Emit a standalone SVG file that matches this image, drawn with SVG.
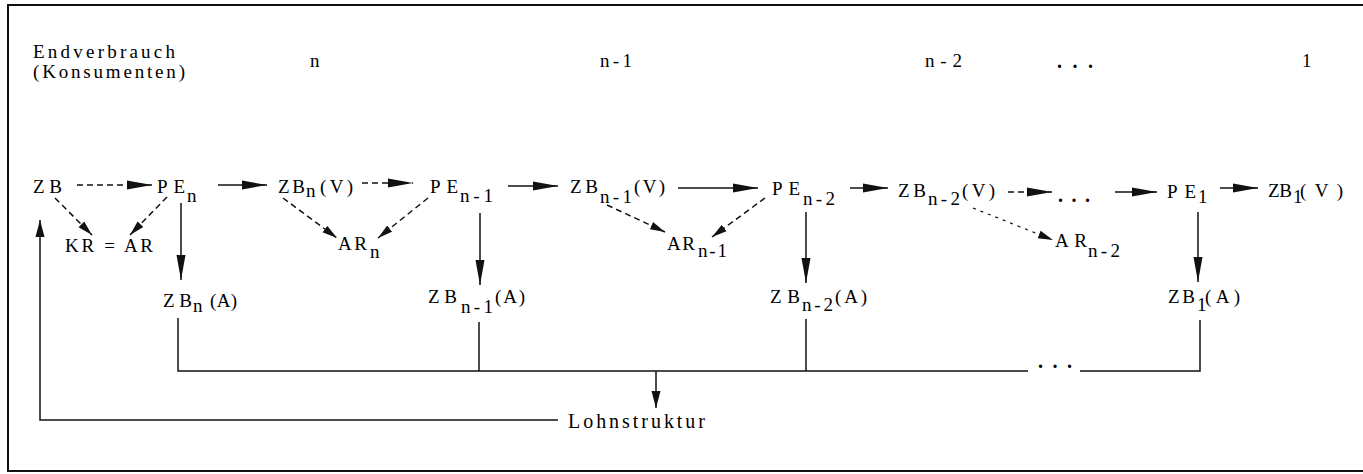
<svg xmlns="http://www.w3.org/2000/svg" width="1363" height="474" viewBox="0 0 1363 474">
<style>
text{font-family:"Liberation Serif","DejaVu Serif",serif;font-size:19px;fill:#000}
.top{font-size:19px}
.lbl{font-size:20px}
.dots{font-size:20px;font-weight:bold}
.c{stroke:#111;stroke-width:1.5;fill:none}
.d{stroke-dasharray:6 4}
.f{stroke-dasharray:3 5;stroke-width:1.2}
.frame{stroke:#111;stroke-width:2;fill:none}
</style>
<defs>
<marker id="ah" markerUnits="userSpaceOnUse" markerWidth="26" markerHeight="10" refX="25" refY="5" orient="auto"><path d="M0,0.5 L25,5 L0,9.5 z" fill="#111"/></marker>
<marker id="am" markerUnits="userSpaceOnUse" markerWidth="18" markerHeight="10" refX="17" refY="5" orient="auto"><path d="M0,0.5 L17,5 L0,9.5 z" fill="#111"/></marker>
<marker id="as" markerUnits="userSpaceOnUse" markerWidth="16" markerHeight="9" refX="15" refY="4.5" orient="auto"><path d="M0,0.5 L15,4.5 L0,8.5 z" fill="#111"/></marker>
</defs>
<path class="frame" d="M1366,5 H8 V471 H1366"/>
<g id="header">
<text class="top" x="33" y="58" textLength="142" lengthAdjust="spacing">Endverbrauch</text>
<text class="top" x="33" y="78" textLength="152" lengthAdjust="spacing">(Konsumenten)</text>
<text class="top" x="310" y="67">n</text>
<text class="top" x="600" y="67" textLength="32" lengthAdjust="spacing">n-1</text>
<text class="top" x="925" y="67" textLength="37" lengthAdjust="spacing">n-2</text>
<text class="dots" x="1057" y="68" textLength="36" lengthAdjust="spacing">...</text>
<text class="top" x="1302" y="67">1</text>
</g>
<g id="connectors">
<line class="c d" x1="77" y1="185" x2="152" y2="185" marker-end="url(#ah)"/>
<line class="c" x1="218" y1="185" x2="267" y2="185" marker-end="url(#ah)"/>
<line class="c d" x1="362" y1="183" x2="413" y2="183" marker-end="url(#ah)"/>
<line class="c" x1="508" y1="186" x2="558" y2="186" marker-end="url(#ah)"/>
<line class="c" x1="678" y1="188" x2="758" y2="188" marker-end="url(#ah)"/>
<line class="c" x1="850" y1="188" x2="888" y2="188" marker-end="url(#ah)"/>
<line class="c d" x1="1008" y1="192" x2="1052" y2="192" marker-end="url(#ah)"/>
<line class="c" x1="1115" y1="192" x2="1157" y2="192" marker-end="url(#ah)"/>
<line class="c" x1="1220" y1="188" x2="1258" y2="188" marker-end="url(#ah)"/>
<line class="c d" x1="55" y1="198" x2="92" y2="235" marker-end="url(#as)"/>
<line class="c d" x1="167" y1="197" x2="130" y2="235" marker-end="url(#as)"/>
<line class="c d" x1="283" y1="198" x2="337" y2="238" marker-end="url(#as)"/>
<line class="c d" x1="428" y1="198" x2="378" y2="238" marker-end="url(#as)"/>
<line class="c d" x1="607" y1="205" x2="665" y2="232" marker-end="url(#as)"/>
<line class="c d" x1="765" y1="198" x2="712" y2="237" marker-end="url(#as)"/>
<line class="c f" x1="973" y1="208" x2="1053" y2="240" marker-end="url(#as)"/>
<line class="c" x1="181" y1="203" x2="181" y2="280" marker-end="url(#ah)"/>
<line class="c" x1="480" y1="213" x2="480" y2="285" marker-end="url(#ah)"/>
<line class="c" x1="806" y1="212" x2="806" y2="283" marker-end="url(#ah)"/>
<line class="c" x1="1198" y1="212" x2="1198" y2="282" marker-end="url(#ah)"/>
<polyline class="c" points="178,318 178,371 1028,371"/>
<polyline class="c" points="1080,371 1200,371 1200,320"/>
<line class="c" x1="479" y1="322" x2="479" y2="371"/>
<line class="c" x1="806" y1="319" x2="806" y2="371"/>
<text class="dots" x="1038" y="368" textLength="34" lengthAdjust="spacing">...</text>
<line class="c" x1="656" y1="371" x2="656" y2="408" marker-end="url(#am)"/>
<polyline class="c" points="558,420 40,420 40,220" marker-end="url(#am)"/>
</g>
<g id="n-ZB"><text x="33" y="193" textLength="29" lengthAdjust="spacing">ZB</text></g>
<g id="n-PEn"><text x="157" y="193" textLength="28" lengthAdjust="spacing">PE</text><text x="187" y="202">n</text></g>
<g id="n-ZBnV"><text x="278" y="193" textLength="27" lengthAdjust="spacing">ZB</text><text x="306" y="197">n</text><text x="320" y="193" textLength="33" lengthAdjust="spacing">(V)</text></g>
<g id="n-PEn1"><text x="430" y="193" textLength="28" lengthAdjust="spacing">PE</text><text x="460" y="202" textLength="33" lengthAdjust="spacing">n-1</text></g>
<g id="n-ZBn1V"><text x="570" y="193" textLength="28" lengthAdjust="spacing">ZB</text><text x="600" y="203" textLength="32" lengthAdjust="spacing">n-1</text><text x="634" y="193" textLength="31" lengthAdjust="spacing">(V)</text></g>
<g id="n-PEn2"><text x="772" y="195" textLength="28" lengthAdjust="spacing">PE</text><text x="803" y="205" textLength="32" lengthAdjust="spacing">n-2</text></g>
<g id="n-ZBn2V"><text x="898" y="197" textLength="28" lengthAdjust="spacing">ZB</text><text x="928" y="205" textLength="32" lengthAdjust="spacing">n-2</text><text x="962" y="197" textLength="33" lengthAdjust="spacing">(V)</text></g>
<g id="n-dots"><text class="dots" x="1058" y="202" textLength="32" lengthAdjust="spacing">...</text></g>
<g id="n-PE1"><text x="1167" y="198" textLength="29" lengthAdjust="spacing">PE</text><text x="1198" y="203">1</text></g>
<g id="n-ZB1V"><text x="1268" y="197" textLength="24" lengthAdjust="spacing">ZB</text><text x="1293" y="203">1</text><text x="1300" y="197" textLength="43" lengthAdjust="spacing">(V)</text></g>
<g id="n-KRAR"><text x="65" y="252" textLength="88" lengthAdjust="spacing">KR = AR</text></g>
<g id="n-ARn"><text x="338" y="250" textLength="29" lengthAdjust="spacing">AR</text><text x="370" y="258">n</text></g>
<g id="n-ARn1"><text x="667" y="250" textLength="28" lengthAdjust="spacing">AR</text><text x="698" y="257" textLength="29" lengthAdjust="spacing">n-1</text></g>
<g id="n-ARn2"><text x="1055" y="247" textLength="32" lengthAdjust="spacing">AR</text><text x="1088" y="257" textLength="32" lengthAdjust="spacing">n-2</text></g>
<g id="n-ZBnA"><text x="163" y="307" textLength="29" lengthAdjust="spacing">ZB</text><text x="193" y="312">n</text><text x="210" y="307" textLength="27" lengthAdjust="spacing">(A)</text></g>
<g id="n-ZBn1A"><text x="428" y="303" textLength="29" lengthAdjust="spacing">ZB</text><text x="461" y="313" textLength="32" lengthAdjust="spacing">n-1</text><text x="495" y="303" textLength="30" lengthAdjust="spacing">(A)</text></g>
<g id="n-ZBn2A"><text x="770" y="303" textLength="30" lengthAdjust="spacing">ZB</text><text x="802" y="311" textLength="31" lengthAdjust="spacing">n-2</text><text x="835" y="303" textLength="32" lengthAdjust="spacing">(A)</text></g>
<g id="n-ZB1A"><text x="1168" y="303" textLength="27" lengthAdjust="spacing">ZB</text><text x="1197" y="311">1</text><text x="1205" y="303" textLength="35" lengthAdjust="spacing">(A)</text></g>
<g id="n-Lohn"><text class="lbl" x="568" y="428" textLength="137" lengthAdjust="spacing">Lohnstruktur</text></g>
</svg>
